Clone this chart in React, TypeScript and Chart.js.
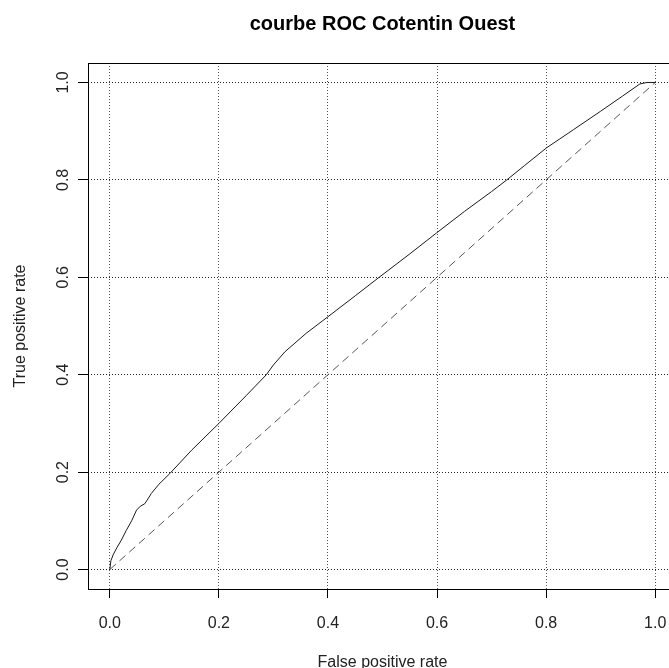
import React, { useEffect, useRef } from 'react'
import { Chart, registerables } from 'chart.js'

Chart.register(...registerables)

// ROC curve
const fpr = [0, 0.002, 0.006, 0.013, 0.021, 0.03, 0.04, 0.049, 0.056, 0.064, 0.07, 0.076, 0.09, 0.11, 0.15, 0.2, 0.25, 0.287, 0.3, 0.321, 0.36, 0.4, 0.45, 0.495, 0.55, 0.599, 0.65, 0.7, 0.728, 0.76, 0.801, 0.85, 0.9, 0.94, 0.972, 0.985, 1]
const tpr = [0, 0.018, 0.03, 0.045, 0.06, 0.08, 0.1, 0.122, 0.13, 0.135, 0.145, 0.156, 0.175, 0.197, 0.245, 0.3, 0.357, 0.4, 0.42, 0.447, 0.485, 0.519, 0.562, 0.601, 0.648, 0.691, 0.735, 0.776, 0.8, 0.829, 0.866, 0.903, 0.941, 0.972, 0.997, 1, 1]

// chance diagonal
const chanceX = [0, 1]
const chanceY = [0, 1]

const tickValues = [0, 0.2, 0.4, 0.6, 0.8, 1]
const tickLabels = ['0.0', '0.2', '0.4', '0.6', '0.8', '1.0']

const title = 'courbe ROC Cotentin Ouest'
const xTitle = 'False positive rate'
const yTitle = 'True positive rate'

const FONT = '"Liberation Sans", Arial, Helvetica, sans-serif'

const frame = {
  id: 'frame',
  afterDraw(chart: any) {
    const { ctx, chartArea: a } = chart
    ctx.save()
    ctx.strokeStyle = '#000'
    ctx.lineWidth = 1
    ctx.setLineDash([])
    ctx.strokeRect(a.left + 0.5, a.top + 0.5, a.right - a.left, a.bottom - a.top)
    const cx = (a.left + a.right) / 2
    const cy = (a.top + a.bottom) / 2
    ctx.textAlign = 'center'
    ctx.textBaseline = 'alphabetic'
    ctx.fillStyle = '#000'
    ctx.font = `bold 20px ${FONT}`
    ctx.fillText(title, cx, 30)
    ctx.fillStyle = '#222'
    ctx.font = `16px ${FONT}`
    ctx.fillText(xTitle, cx, 667)
    ctx.translate(25, cy)
    ctx.rotate(-Math.PI / 2)
    ctx.fillText(yTitle, 0, 0)
    ctx.restore()
  },
}

const setTicks = (s: any) => {
  s.ticks = tickValues.map(v => ({ value: v }))
}
const tickText = (v: any) => {
  const i = tickValues.findIndex(t => Math.abs(t - Number(v)) < 1e-6)
  return i >= 0 ? tickLabels[i] : ''
}

export default function App() {
  const chartRef = useRef<HTMLCanvasElement | null>(null)
  const chartInstance = useRef<Chart | null>(null)

  useEffect(() => {
    if (!chartRef.current) return
    const ctx = chartRef.current.getContext('2d')
    if (!ctx) return
    if (chartInstance.current) chartInstance.current.destroy()

    chartInstance.current = new Chart(ctx, {
      type: 'scatter',
      data: {
        datasets: [
          {
            label: 'ROC',
            data: fpr.map((x, i) => ({ x, y: tpr[i] })),
            showLine: true,
            borderColor: '#1a1a1a',
            borderWidth: 1,
            pointRadius: 0,
            tension: 0,
          },
          {
            label: 'chance',
            data: chanceX.map((x, i) => ({ x, y: chanceY[i] })),
            showLine: true,
            borderColor: '#555',
            borderWidth: 1,
            borderDash: [8, 5],
            pointRadius: 0,
          },
        ],
      },
      options: {
        animation: false,
        responsive: true,
        maintainAspectRatio: false,
        layout: { padding: { top: 63, right: 23, left: 0, bottom: 0 } },
        scales: {
          x: {
            type: 'linear',
            min: -0.04,
            max: 1.04,
            afterBuildTicks: setTicks,
            afterFit: (s: any) => { s.height = 79 },
            grid: {
              color: '#555',
              lineWidth: 1,
              tickLength: 9,
              tickColor: '#000',
            },
            border: { display: false, dash: [1, 2] },
            ticks: {
              callback: tickText,
              color: '#222',
              font: { family: FONT, size: 16 },
              padding: 16,
              maxRotation: 0,
              autoSkip: false,
            },
          },
          y: {
            type: 'linear',
            min: -0.04,
            max: 1.04,
            afterBuildTicks: setTicks,
            afterFit: (s: any) => { s.width = 88 },
            grid: {
              color: '#222',
              lineWidth: 1,
              tickLength: 10,
              tickColor: '#000',
            },
            border: { display: false, dash: [1, 2] },
            ticks: {
              callback: tickText,
              color: '#222',
              font: { family: FONT, size: 16 },
              padding: 3,
              minRotation: 90,
              maxRotation: 90,
              crossAlign: 'center',
              autoSkip: false,
            },
          },
        },
        plugins: {
          legend: { display: false },
          tooltip: { enabled: false },
          title: { display: false },
        },
      },
      plugins: [frame],
    })

    return () => {
      if (chartInstance.current) {
        chartInstance.current.destroy()
        chartInstance.current = null
      }
    }
  }, [])

  return (
    <div style={{ position: 'fixed', left: 0, top: 0, width: 669, height: 668, overflow: 'hidden', background: '#fff' }}>
      <div style={{ width: 700, height: 668 }}>
        <canvas ref={chartRef} />
      </div>
    </div>
  )
}
